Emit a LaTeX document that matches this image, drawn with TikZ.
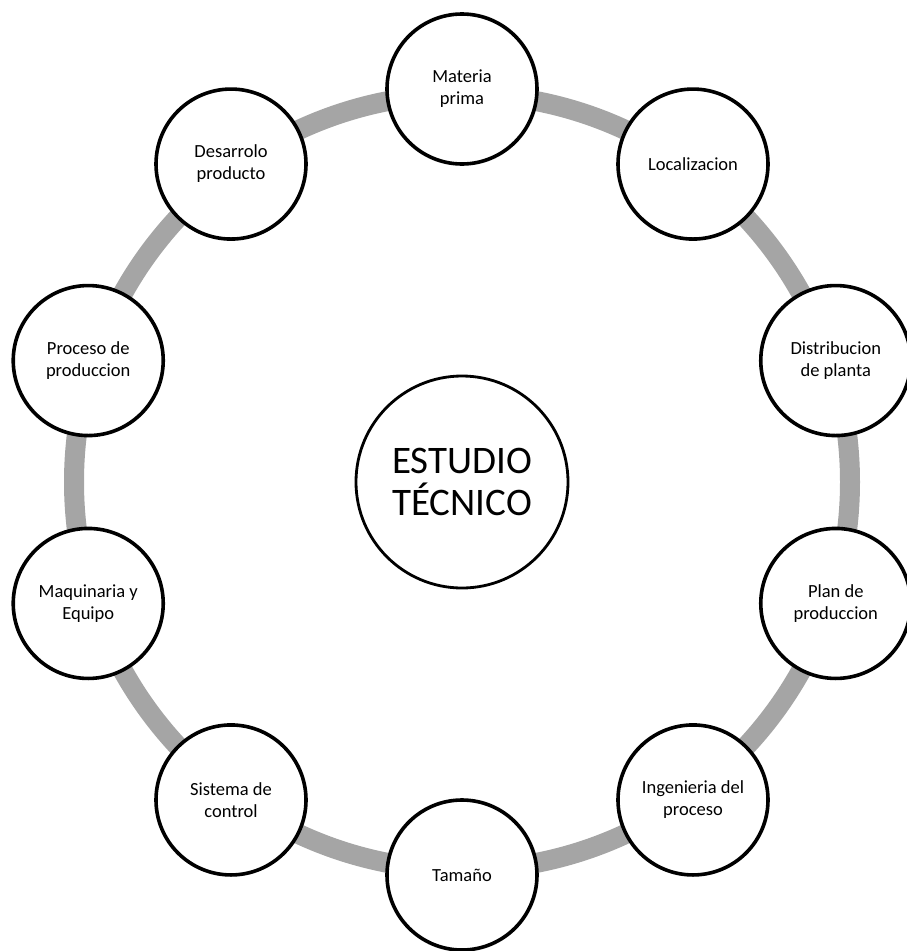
\documentclass[tikz,border=0pt]{standalone}
\usepackage{fontspec}
\setmainfont{Carlito}
\definecolor{ringgray}{HTML}{A5A5A5}
\tikzset{
  item/.style={circle, draw=black, line width=3.6pt, fill=white, minimum size=150pt,
    inner sep=0pt, align=center, font=\fontsize{18.5}{22}\selectfont, text=black},
  hub/.style={circle, draw=black, line width=2.8pt, fill=white, minimum size=212pt,
    inner sep=0pt, align=center, font=\fontsize{39}{42}\selectfont, text=black},
  ring/.style={draw=ringgray, line width=20pt}
}
\begin{document}
\begin{tikzpicture}[x=1pt,y=-1pt]
  \useasboundingbox (0,0) rectangle (906,951);
  \coordinate (c) at (462,482);
  % grey ring joining the satellites
  \draw[ring] (c) circle[radius=388pt];
  % centre
  \node[hub] (hub) at (c) {ESTUDIO\\TÉCNICO};
  % satellites, every 36 degrees starting at the top
  \foreach \a/\name/\txt in {
      90/mp/{Materia\\prima},
      54/loc/{Localizacion},
      18/dist/{Distribucion\\de planta},
      -18/plan/{Plan de\\produccion},
      -54/ing/{Ingenieria del\\proceso},
      -90/tam/{Tamaño},
      -126/sis/{Sistema de\\control},
      -162/maq/{Maquinaria y\\Equipo},
      162/proc/{Proceso de\\produccion},
      126/des/{Desarrolo\\producto}}{
    \node[item] (\name) at ({462+393*cos(\a)},{482-393*sin(\a)}) {\txt};
  }
\end{tikzpicture}
\end{document}
